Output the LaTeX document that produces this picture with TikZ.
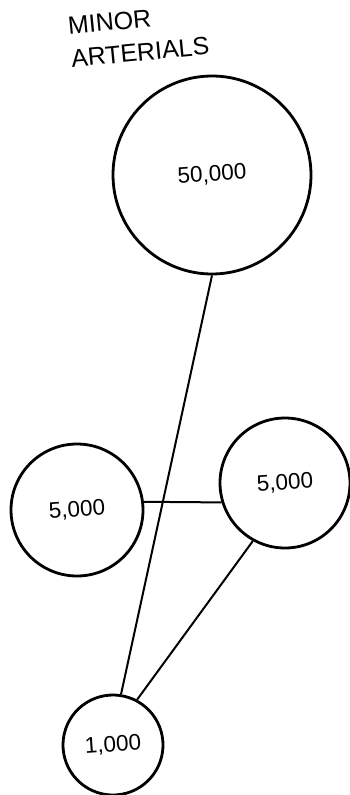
\documentclass[tikz,border=0pt]{standalone}
\usepackage{fontspec}
\setmainfont{Liberation Sans}
\tikzset{
  volume/.style={circle, draw, line width=2.8pt, inner sep=0pt, font=\fontsize{22.5}{22.5}\selectfont, rotate=4},
  link/.style={line width=2pt}
}
\begin{document}
\begin{tikzpicture}[x=1pt,y=-1pt]
  \useasboundingbox (0,0) rectangle (350,795);
  \node[align=left, font=\fontsize{25}{33}\selectfont, rotate=5.5, anchor=north west, inner sep=0pt] (title) at (67,17) {MINOR\\ARTERIALS};
  \node[volume, minimum size=198pt] (big) at (212,175) {50,000};
  \node[volume, minimum size=132pt] (left) at (77,510) {5,000};
  \node[volume, minimum size=130pt] (right) at (285,483) {5,000};
  \node[volume, minimum size=100pt] (low) at (113,745) {1,000};
  \draw[link] (big.266) -- (low.77);
  \draw[link] (left.3) -- (right.193);
  \draw[link] (right.237) -- (low.58);
\end{tikzpicture}
\end{document}
